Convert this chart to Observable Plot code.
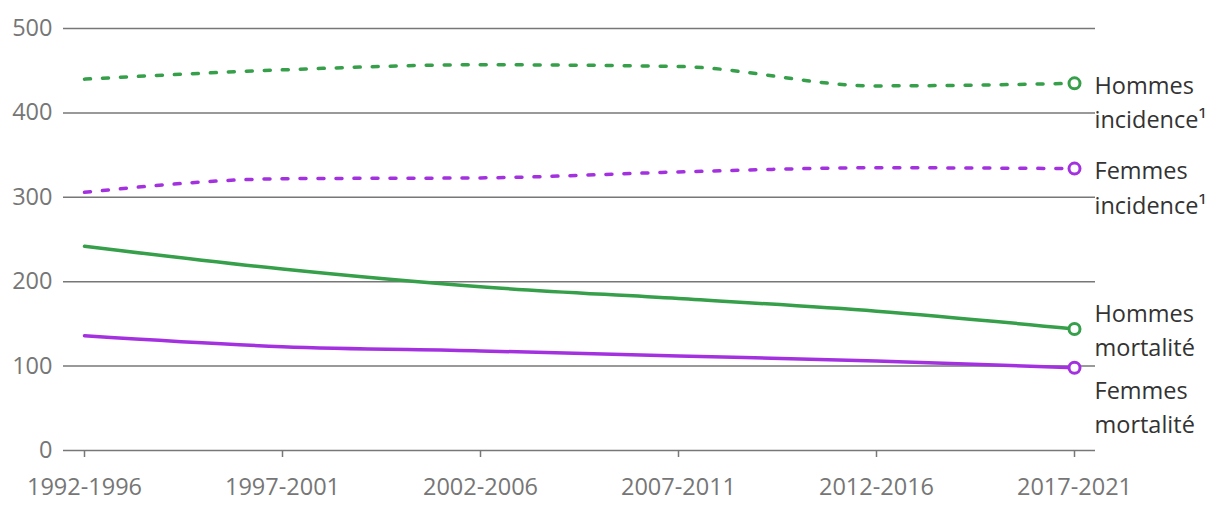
<!DOCTYPE html>
<html>
<head>
<meta charset="utf-8">
<script src="https://cdn.jsdelivr.net/npm/d3@7"></script>
<script src="https://cdn.jsdelivr.net/npm/@observablehq/plot@0.6"></script>
<style>
  html, body { margin: 0; padding: 0; background: #fff; }
  svg { font-family: "Open Sans", sans-serif; }
</style>
</head>
<body>
<div id="chart"></div>
<script>
const periods = ["1992-1996", "1997-2001", "2002-2006", "2007-2011", "2012-2016", "2017-2021"];
const hommesIncidence = [440, 451, 457, 455, 432, 435];
const femmesIncidence = [306, 322, 323, 330, 335, 334];
const hommesMortalite = [242, 215, 194, 180, 165, 144];
const femmesMortalite = [136, 123, 118, 112, 106, 98];
const seriesNames = ["Hommes\nincidence¹", "Femmes\nincidence¹", "Hommes\nmortalité", "Femmes\nmortalité"];
const yTicks = [0, 100, 200, 300, 400, 500];

const green = "#369f4a";
const purple = "#a331e0";

const seriesDefs = [
  {name: seriesNames[0], values: hommesIncidence, color: green, dashed: true, dy: 17},
  {name: seriesNames[1], values: femmesIncidence, color: purple, dashed: true, dy: 17},
  {name: seriesNames[2], values: hommesMortalite, color: green, dashed: false, dy: -1},
  {name: seriesNames[3], values: femmesMortalite, color: purple, dashed: false, dy: 37}
];

const marks = [
  Plot.ruleY(yTicks.filter(d => d > 0), {stroke: "#777", strokeWidth: 1.5, strokeOpacity: 1}),
  Plot.axisY({ticks: yTicks, tickSize: 0, tickPadding: 11, fontSize: 23.5, color: "#767676", label: null}),
  Plot.ruleY([0], {stroke: "#777", strokeWidth: 1.5}),
  Plot.axisX({tickSize: 7, tickPadding: 21, fontSize: 23.5, color: "#767676", label: null, stroke: "#777", strokeWidth: 1.5})
];

for (const s of seriesDefs) {
  const data = periods.map((p, i) => ({period: p, value: s.values[i]}));
  marks.push(Plot.line(data, {
    x: "period", y: "value", stroke: s.color, strokeWidth: 3.5,
    curve: "monotone-x",
    strokeDasharray: s.dashed ? "6,12" : null,
    strokeLinecap: "round"
  }));
  const last = data[data.length - 1];
  marks.push(Plot.dot([last], {x: "period", y: "value", r: 5.5, stroke: s.color, strokeWidth: 3, fill: "white"}));
  marks.push(Plot.text([last], {
    x: "period", y: "value", text: () => s.name,
    textAnchor: "start", dx: 20, dy: s.dy, fontSize: 23.5, fill: "#333",
    lineHeight: 1.45
  }));
}

const chart = Plot.plot({
  width: 1220,
  height: 518,
  marginLeft: 63,
  marginRight: 125,
  marginTop: 28,
  marginBottom: 68,
  style: {fontFamily: "'Open Sans', sans-serif", background: "white"},
  x: {type: "point", domain: periods, padding: 0, inset: 20},
  y: {domain: [0, 500]},
  marks
});
document.getElementById("chart").appendChild(chart);
</script>
</body>
</html>
